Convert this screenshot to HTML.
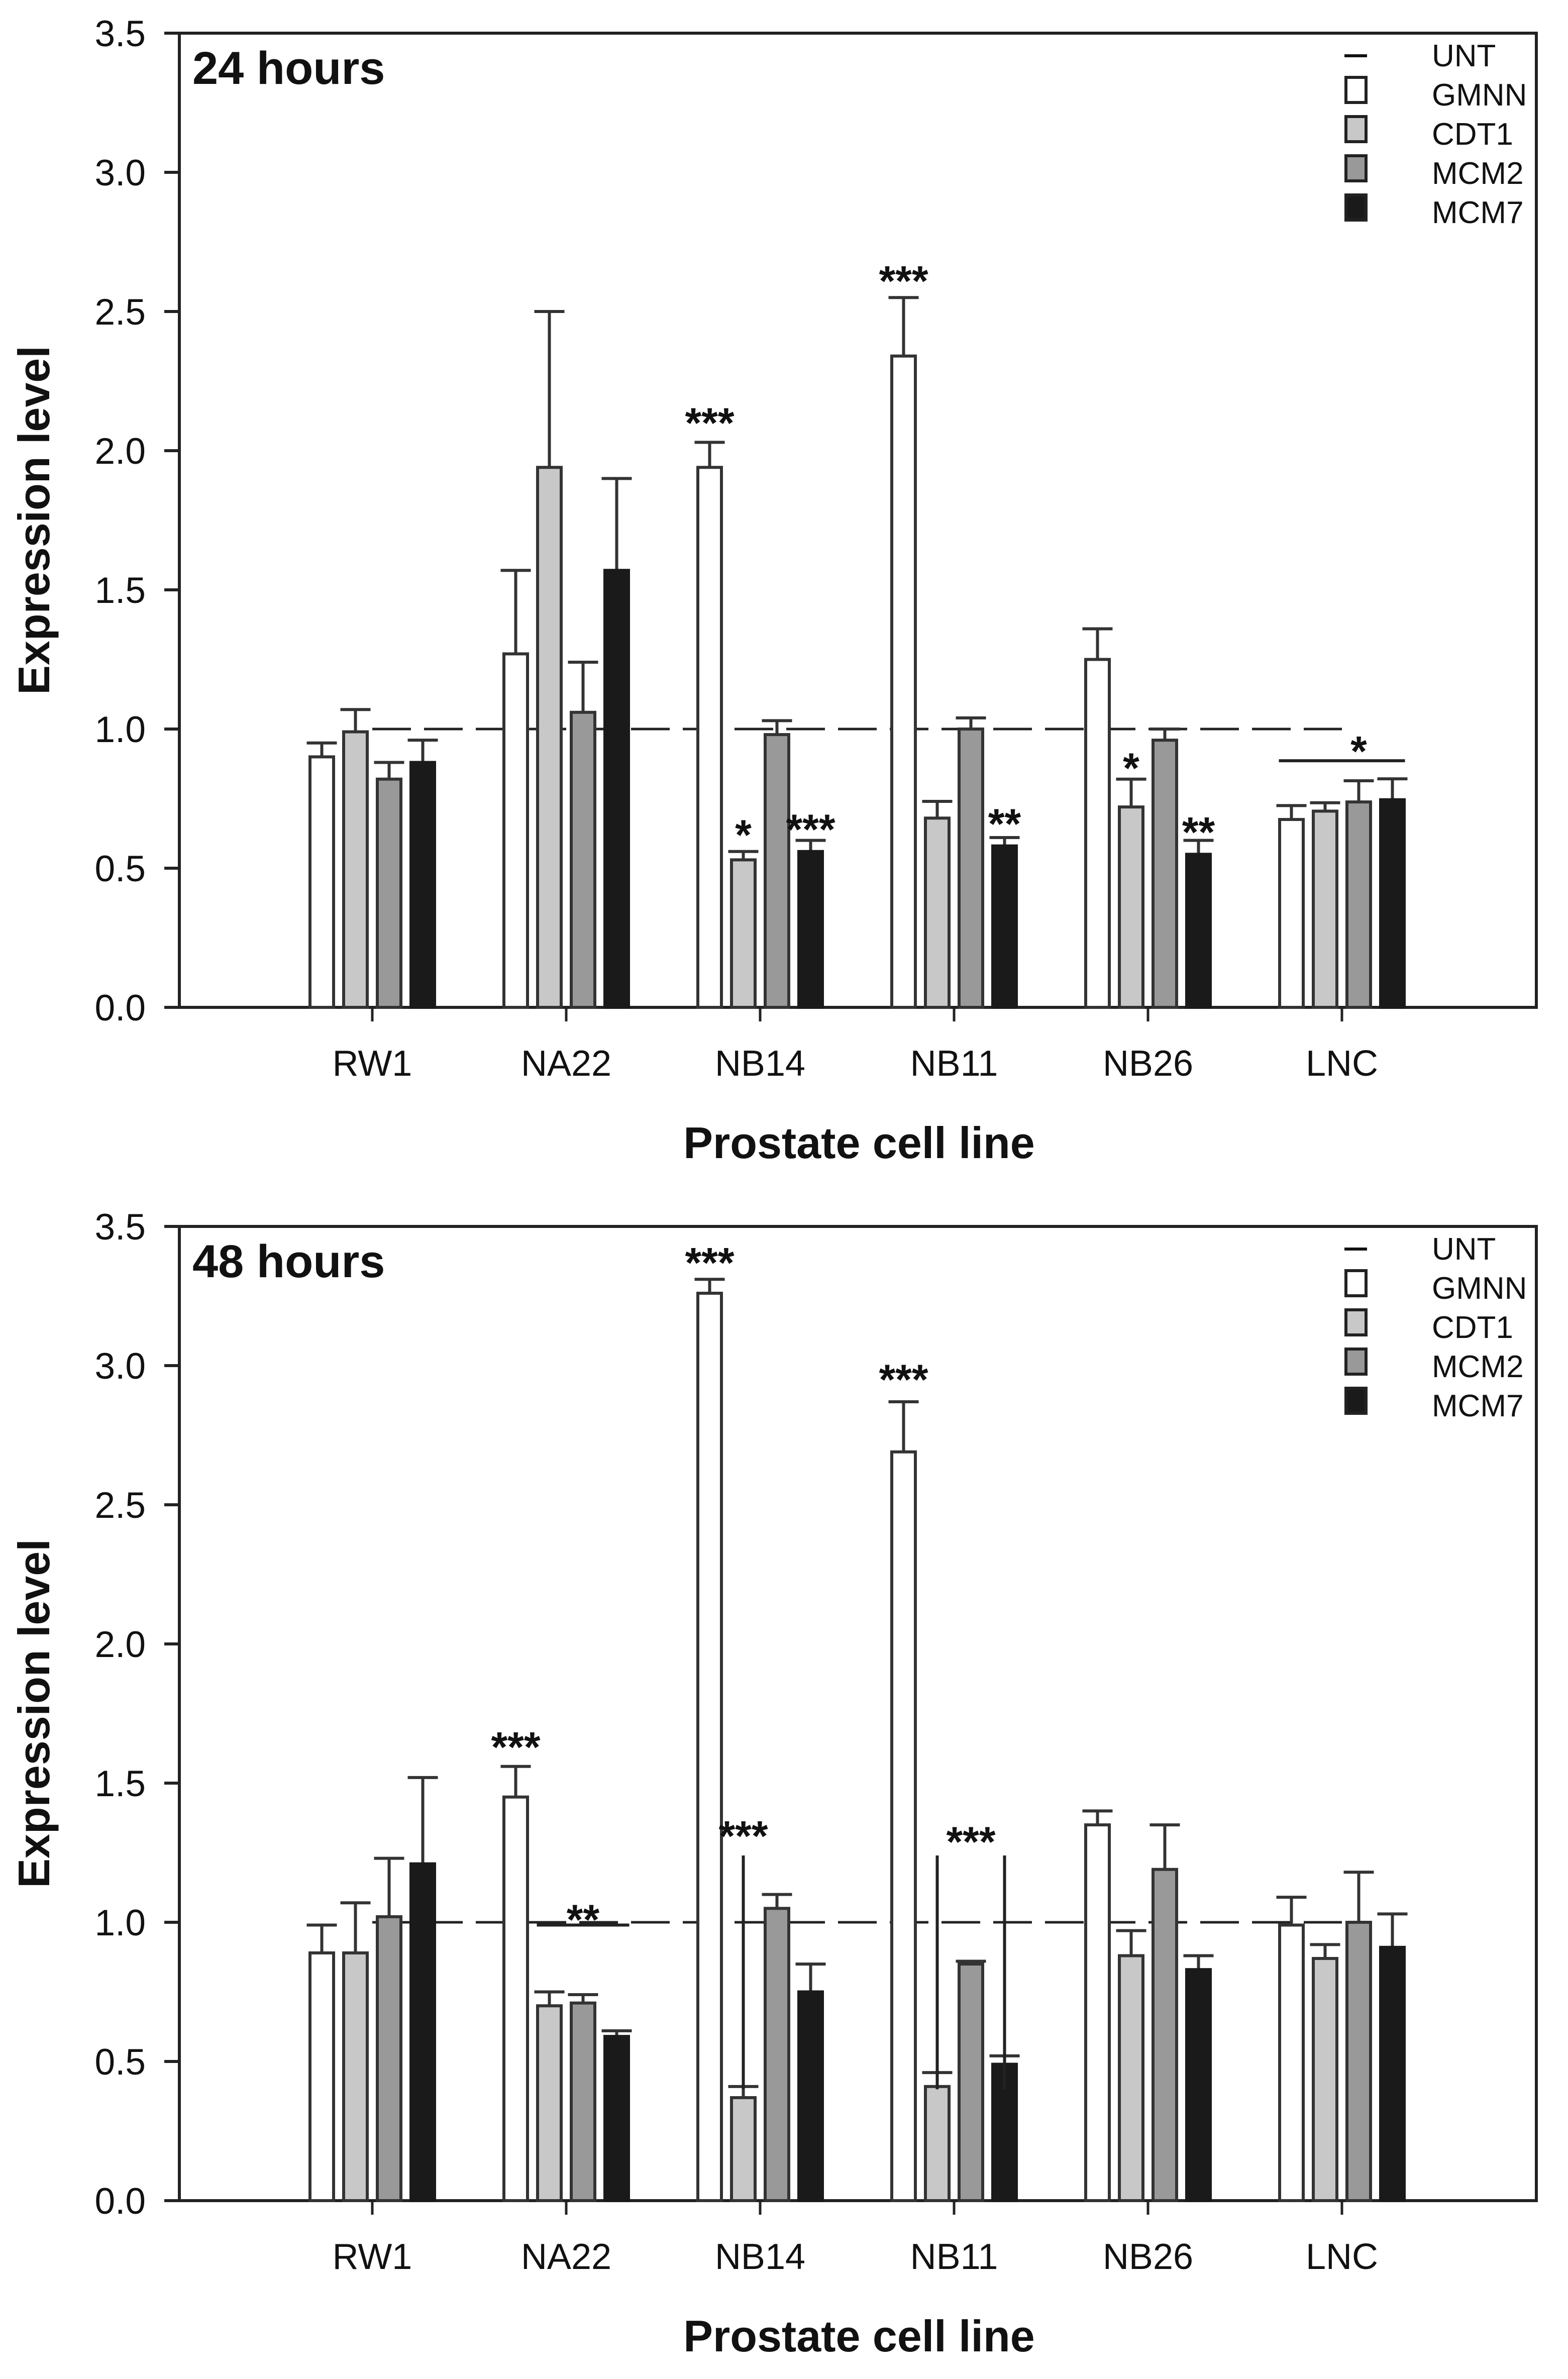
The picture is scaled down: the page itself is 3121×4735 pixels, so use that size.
<!DOCTYPE html>
<html><head><meta charset="utf-8"><style>
html,body{margin:0;padding:0;background:#fff;}
svg{display:block;}
text{font-family:"Liberation Sans",Arial,sans-serif;fill:#111;}
</style></head><body>
<svg id="fig" width="3121" height="4735" viewBox="0 0 3121 4735" xmlns="http://www.w3.org/2000/svg"></svg>
<script>
const categories = ["RW1","NA22","NB14","NB11","NB26","LNC"];
const seriesNames = ["GMNN","CDT1","MCM2","MCM7"];
const yTicks = [0,0.5,1.0,1.5,2.0,2.5,3.0,3.5];
const yTickLabels = ["0.0","0.5","1.0","1.5","2.0","2.5","3.0","3.5"];
// 24 hours
const gmnn24 = [0.90,1.27,1.94,2.34,1.25,0.675];
const cdt124 = [0.99,1.94,0.53,0.68,0.72,0.705];
const mcm224 = [0.82,1.06,0.98,1.00,0.96,0.738];
const mcm724 = [0.88,1.57,0.56,0.58,0.55,0.746];
const gmnn24Err = [0.05,0.30,0.09,0.21,0.11,0.05];
const cdt124Err = [0.08,0.56,0.03,0.06,0.10,0.03];
const mcm224Err = [0.06,0.18,0.05,0.04,0.04,0.076];
const mcm724Err = [0.08,0.33,0.04,0.03,0.05,0.075];
// 48 hours
const gmnn48 = [0.89,1.45,3.26,2.69,1.35,0.99];
const cdt148 = [0.89,0.70,0.37,0.41,0.88,0.87];
const mcm248 = [1.02,0.71,1.05,0.85,1.19,1.00];
const mcm748 = [1.21,0.59,0.75,0.49,0.83,0.91];
const gmnn48Err = [0.10,0.11,0.05,0.18,0.05,0.10];
const cdt148Err = [0.18,0.05,0.04,0.05,0.09,0.05];
const mcm248Err = [0.21,0.03,0.05,0.01,0.16,0.18];
const mcm748Err = [0.31,0.02,0.10,0.03,0.05,0.12];
const untLevel = 1.0;

const NS="http://www.w3.org/2000/svg";
const svg=document.getElementById('fig');
const fills=["#ffffff","#c8c8c8","#999999","#1a1a1a"];
function mk(tag,attrs,parent){const e=document.createElementNS(NS,tag);for(const k in attrs)e.setAttribute(k,attrs[k]);(parent||svg).appendChild(e);return e;}

function panel(top,title,vals,errs,annots,pname){
  const g=mk('g',{});
  
  
  const left=357,right=3058,zero=top+1939;
  const yS=v=>zero-v*(1939/3.5);
  const xC=i=>741+i*386;
  const bw=47,step=67;
  const ax=mk('rect',{x:left,y:top,width:right-left,height:zero-top,fill:'none',stroke:'#222','stroke-width':6},g);
  
  
  yTicks.forEach((t,i)=>{
    const y=yS(t);
    const tk=mk('line',{x1:327,x2:left,y1:y,y2:y,stroke:'#222','stroke-width':6},g);
    
    
    const tl=mk('text',{x:290,y:y+26,'text-anchor':'end','font-size':73},g);
    tl.textContent=yTickLabels[i];
    
    
  });
  const dl=mk('line',{x1:xC(0),x2:xC(5),y1:yS(untLevel),y2:yS(untLevel),stroke:'#222','stroke-width':5,'stroke-dasharray':'77 26'},g);
  
  
  categories.forEach((c,i)=>{
    const cx=xC(i);
    const tk=mk('line',{x1:cx,x2:cx,y1:zero,y2:zero+28,stroke:'#222','stroke-width':5},g);
    
    
    const lb=mk('text',{x:cx,y:zero+136,'text-anchor':'middle','font-size':72},g);
    lb.textContent=c;
    
    
    for(let s=0;s<4;s++){
      const v=vals[s][i],e=errs[s][i];
      const bx=cx+(s-1.5)*step;
      const eb=mk('line',{x1:bx,x2:bx,y1:yS(v),y2:yS(v+e),stroke:'#333','stroke-width':6},g);
      
      
      const ec=mk('line',{x1:bx-30,x2:bx+30,y1:yS(v+e),y2:yS(v+e),stroke:'#333','stroke-width':6},g);
      
      
      const r=mk('rect',{x:bx-bw/2,y:yS(v),width:bw,height:zero-yS(v),fill:fills[s],stroke:s==3?'#1a1a1a':'#333','stroke-width':6},g);
      
      
    }
  });
  annots.forEach(a=>{
    const cx=xC(a.g)+(a.s-1.5)*step;
    if(a.line){
      const x1=xC(a.g)+(a.line[0]-1.5)*step-25,x2=xC(a.g)+(a.line[1]-1.5)*step+25;
      const ln=mk('line',{x1:x1,x2:x2,y1:yS(a.ly),y2:yS(a.ly),stroke:'#222','stroke-width':6},g);
      
      
    }
    if(a.vl){
      a.vl.forEach(s=>{
        const vx=xC(a.g)+(s-1.5)*step;
        const vv=mk('line',{x1:vx,x2:vx,y1:yS(a.vy[0]),y2:yS(a.vy[1]),stroke:'#222','stroke-width':6},g);
        
        
      });
    }
    const t=mk('text',{x:cx,y:yS(a.y)+40,'text-anchor':'middle','font-size':84,'font-weight':'bold'},g);
    t.textContent=a.t;
    
    
  });
  const tt=mk('text',{x:383,y:top+101,'font-size':92,'font-weight':'bold'},g);
  tt.textContent=title;
  
  
  const lg=mk('g',{},g);
  
  
  const ln=mk('line',{x1:2676,x2:2721,y1:top+45,y2:top+45,stroke:'#111','stroke-width':6},lg);
  
  
  const names=["UNT"].concat(seriesNames);
  names.forEach((n,k)=>{
    const by=top+66+k*78;
    if(k>0){
      const sw=mk('rect',{x:2679,y:by-56,width:40,height:50,fill:fills[k-1],stroke:'#222','stroke-width':6},lg);
      
      
    }
    const lt=mk('text',{x:2850,y:by,'font-size':62},lg);
    lt.textContent=n;
    
    
  });
  const xt=mk('text',{x:1710,y:zero+300,'text-anchor':'middle','font-size':88,'font-weight':'bold'},g);
  xt.textContent="Prostate cell line";
  
  
  const yc=(top+zero)/2;
  const yt=mk('text',{x:0,y:0,'text-anchor':'middle','font-size':88,'font-weight':'bold',transform:`translate(98,${yc}) rotate(-90)`},g);
  yt.textContent="Expression level";
  
  
}

panel(66,"24 hours",[gmnn24,cdt124,mcm224,mcm724],[gmnn24Err,cdt124Err,mcm224Err,mcm724Err],[
  {g:2,s:0,y:2.12,t:"***"},{g:2,s:1,y:0.64,t:"*"},{g:2,s:3,y:0.66,t:"***"},
  {g:3,s:0,y:2.63,t:"***"},{g:3,s:3,y:0.68,t:"**"},
  {g:4,s:1,y:0.88,t:"*"},{g:4,s:3,y:0.65,t:"**"},
  {g:5,s:2,y:0.94,t:"*",line:[0,3],ly:0.886}
],'panel-24-hours');

panel(2441,"48 hours",[gmnn48,cdt148,mcm248,mcm748],[gmnn48Err,cdt148Err,mcm248Err,mcm748Err],[
  {g:1,s:0,y:1.65,t:"***"},{g:1,s:2,y:1.03,t:"**",line:[1,3],ly:0.99},
  {g:2,s:0,y:3.39,t:"***"},{g:2,s:1,y:1.33,t:"***",vl:[1],vy:[0.40,1.24]},
  {g:3,s:0,y:2.97,t:"***"},{g:3,s:2,y:1.31,t:"***",vl:[1,3],vy:[0.40,1.24]}
],'panel-48-hours');
</script>
</body></html>
